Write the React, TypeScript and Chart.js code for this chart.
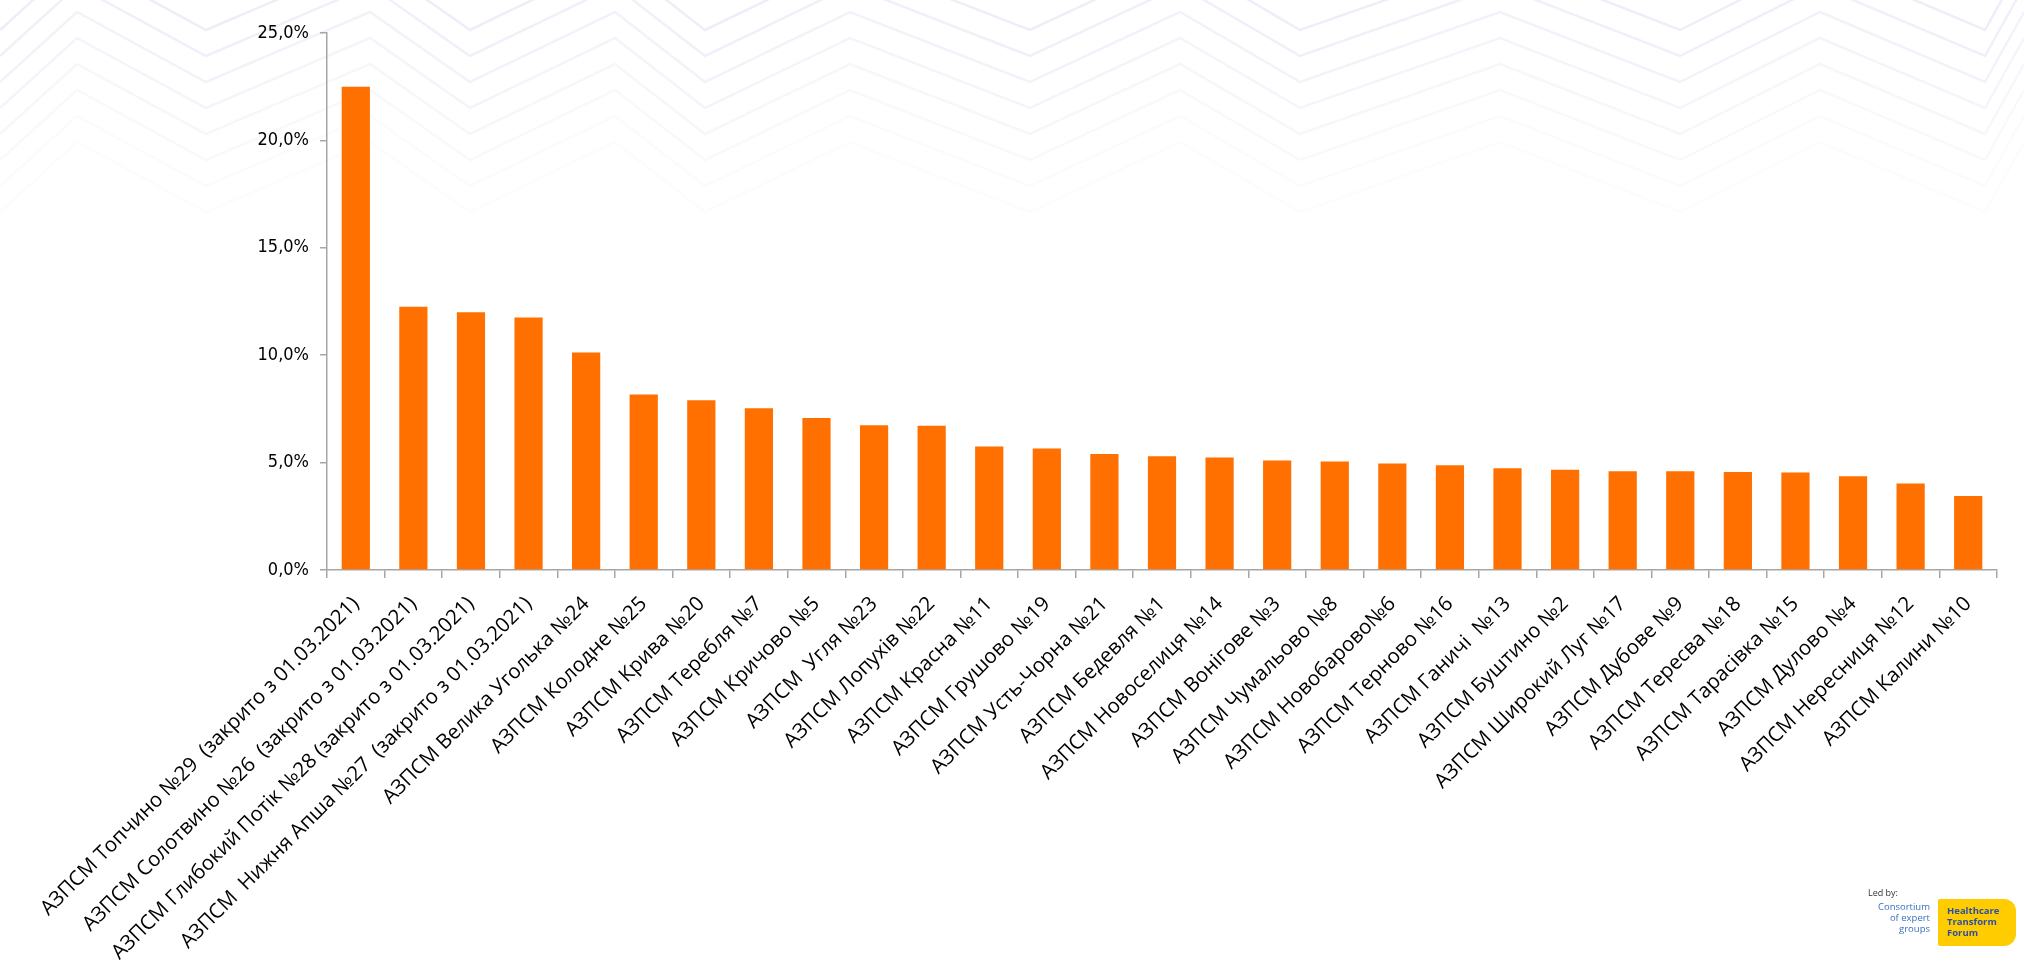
import React, { useEffect, useRef } from 'react';
import { Chart, registerables } from 'chart.js';

Chart.register(...registerables);

// назви АЗПСМ (як на осі X)
const labels: string[] = [
  'АЗПСМ Топчино №29  (закрито з 01.03.2021)',
  'АЗПСМ Солотвино №26  (закрито з 01.03.2021)',
  'АЗПСМ Глибокий Потік №28 (закрито з 01.03.2021)',
  'АЗПСМ  Нижня Апша №27  (закрито з 01.03.2021)',
  'АЗПСМ Велика Уголька №24',
  'АЗПСМ Колодне №25',
  'АЗПСМ Крива №20',
  'АЗПСМ Теребля №7',
  'АЗПСМ Кричово №5',
  'АЗПСМ  Угля №23',
  'АЗПСМ Лопухів №22',
  'АЗПСМ Красна №11',
  'АЗПСМ Грушово №19',
  'АЗПСМ Усть-Чорна №21',
  'АЗПСМ Бедевля №1',
  'АЗПСМ Новоселиця №14',
  'АЗПСМ Вонігове №3',
  'АЗПСМ Чумальово №8',
  'АЗПСМ Новобарово№6',
  'АЗПСМ Терново №16',
  'АЗПСМ Ганичі  №13',
  'АЗПСМ Буштино №2',
  'АЗПСМ Широкий Луг №17',
  'АЗПСМ Дубове №9',
  'АЗПСМ Тересва №18',
  'АЗПСМ Тарасівка №15',
  'АЗПСМ Дулово №4',
  'АЗПСМ Нересниця №12',
  'АЗПСМ Калини №10',
];

// частка, %
const shares: number[] = [
  22.5, 12.25, 12.0, 11.75, 10.13, 8.17, 7.9, 7.53, 7.08, 6.74,
  6.71, 5.75, 5.66, 5.4, 5.29, 5.24, 5.1, 5.05, 4.96, 4.88,
  4.74, 4.67, 4.6, 4.6, 4.56, 4.54, 4.37, 4.03, 3.44,
];

const yMin = 0;
const yMax = 25;
const yStep = 5;

// фоновий візерунок (зигзаг)
const zigX = [0, 77, 206, 370, 470, 615, 705, 850, 1030, 1180, 1300, 1500, 1680, 1820, 1985, 2024];

const BarChart: React.FC = () => {
  const chartRef = useRef<HTMLCanvasElement>(null);
  const chartInstance = useRef<Chart | null>(null);

  useEffect(() => {
    if (!chartRef.current) return;
    if (chartInstance.current) chartInstance.current.destroy();

    const ctx = chartRef.current.getContext('2d');
    if (!ctx) return;

    chartInstance.current = new Chart(ctx, {
      type: 'bar',
      data: {
        labels,
        datasets: [
          {
            data: shares,
            backgroundColor: '#FF7000',
            borderWidth: 0,
            barPercentage: 0.49,
            categoryPercentage: 1,
          },
        ],
      },
      options: {
        animation: false,
        responsive: true,
        maintainAspectRatio: false,
        layout: { padding: { top: 33, right: 27, bottom: 0, left: 0 } },
        plugins: {
          legend: { display: false },
          tooltip: { enabled: false },
        },
        scales: {
          x: {
            afterFit: (scale: any) => {
              scale.height = 394;
            },
            border: { color: '#A6A6A6', width: 1.5 },
            grid: {
              drawOnChartArea: false,
              drawTicks: true,
              tickLength: 8,
              color: '#A6A6A6',
              lineWidth: 1.5,
            },
            ticks: {
              autoSkip: false,
              maxRotation: 45,
              minRotation: 45,
              padding: 14,
              color: '#000',
              font: { family: '"Open Sans", "DejaVu Sans", sans-serif', size: 20.5 },
            },
          },
          y: {
            min: yMin,
            max: yMax,
            afterFit: (scale: any) => {
              scale.width = 327;
            },
            border: { color: '#A6A6A6', width: 1.5 },
            grid: {
              drawOnChartArea: false,
              drawTicks: true,
              tickLength: 7,
              color: '#A6A6A6',
              lineWidth: 1.5,
            },
            ticks: {
              stepSize: yStep,
              padding: 11,
              color: '#000',
              font: { family: '"DejaVu Sans Condensed", "DejaVu Sans", sans-serif', size: 18 },
              callback: (value: any) => Number(value).toFixed(1).replace('.', ',') + '%',
            },
          },
        },
      },
    });

    return () => {
      if (chartInstance.current) {
        chartInstance.current.destroy();
        chartInstance.current = null;
      }
    };
  }, []);

  return <canvas ref={chartRef}></canvas>;
};

const Zigzag: React.FC = () => {
  const rows = Array.from({ length: 8 }, (_, i) => i);
  return (
    <svg width={2024} height={260} style={{ position: 'absolute', left: 0, top: 0 }}>
      {rows.map((r) => {
        const pts = zigX
          .map((x, i) => `${x},${-40 + r * 26 + (i % 2 === 0 ? 70 : 0)}`)
          .join(' ');
        return (
          <polyline
            key={r}
            points={pts}
            fill="none"
            stroke="#ECEFF8"
            strokeWidth={2.5}
            opacity={1 - r * 0.12}
          />
        );
      })}
    </svg>
  );
};

const Logo: React.FC = () => (
  <div style={{ position: 'absolute', left: 1862, top: 886, width: 156, height: 62, fontFamily: '"Open Sans", sans-serif' }}>
    <div style={{ position: 'absolute', left: 6, top: 0, fontSize: 9, color: '#333' }}>Led by:</div>
    <div
      style={{
        position: 'absolute',
        left: 0,
        top: 15,
        width: 68,
        fontSize: 9.5,
        lineHeight: '11px',
        color: '#3a6fc4',
        textAlign: 'right',
      }}
    >
      Consortium
      <br />
      of expert
      <br />
      groups
    </div>
    <div
      style={{
        position: 'absolute',
        left: 76,
        top: 13,
        width: 78,
        height: 47,
        background: '#FFCC00',
        borderRadius: '2px 12px 12px 2px',
        fontSize: 9.5,
        lineHeight: '11px',
        fontWeight: 700,
        color: '#2a4fa8',
        padding: '6px 0 0 9px',
        boxSizing: 'border-box',
      }}
    >
      Healthcare
      <br />
      Transform
      <br />
      Forum
    </div>
  </div>
);

const App: React.FC = () => {
  useEffect(() => {
    document.body.style.margin = '0';
  }, []);

  return (
    <div style={{ position: 'relative', width: 2024, height: 964, background: '#fff', overflow: 'hidden' }}>
      <Zigzag />
      <div style={{ position: 'absolute', left: 0, top: 0, width: 2024, height: 964 }}>
        <BarChart />
      </div>
      <Logo />
    </div>
  );
};

export default App;
